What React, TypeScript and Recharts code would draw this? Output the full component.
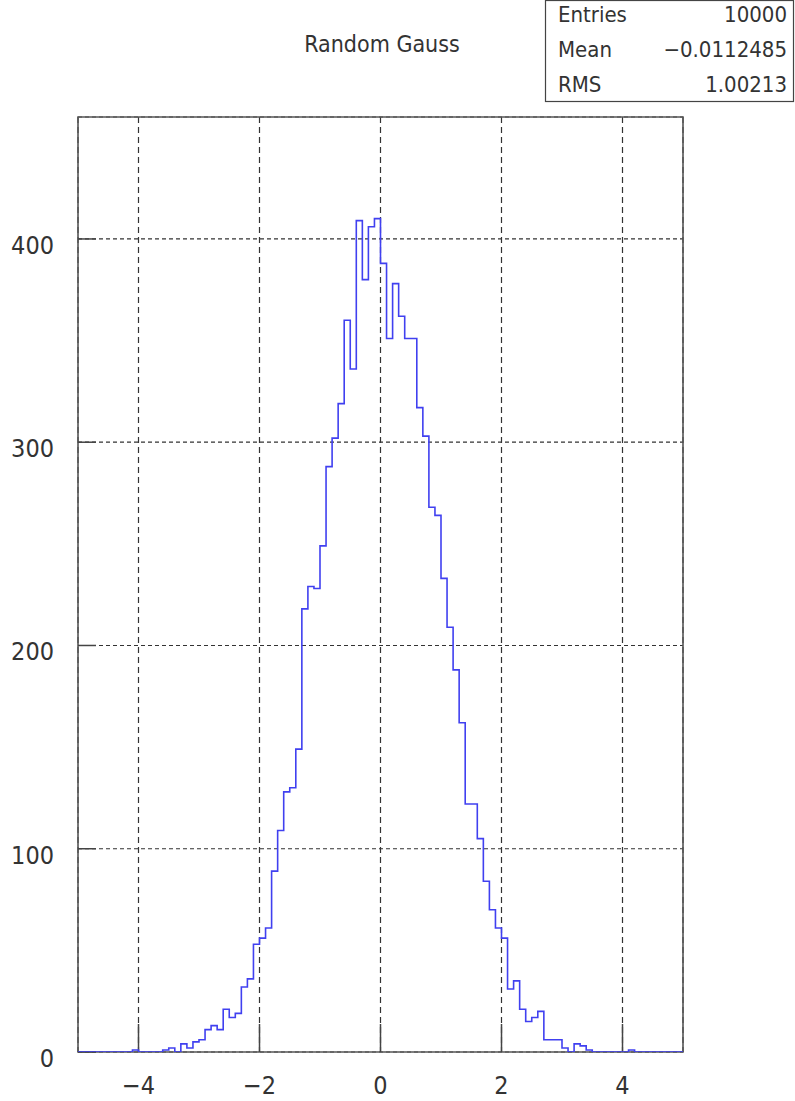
import React from 'react';
import { LineChart, Line, XAxis, YAxis, CartesianGrid, ReferenceLine, ReferenceArea } from 'recharts';

// Histogram "Random Gauss": 100 bins from -5 to 5
const binCounts: number[] = [
  0, 0, 0, 0, 0, 0, 0, 0, 0, 1,
  0, 0, 0, 0, 1, 2, 0, 4, 2, 5,
  6, 11, 13, 11, 21, 17, 19, 32, 36, 53,
  56, 61, 89, 109, 128, 130, 149, 218, 229, 228,
  249, 288, 302, 319, 360, 336, 409, 380, 406, 410,
  388, 351, 378, 362, 351, 351, 317, 303, 268, 264,
  233, 209, 188, 162, 122, 122, 105, 84, 70, 61,
  56, 31, 35, 21, 15, 17, 20, 6, 6, 6,
  2, 0, 4, 3, 1, 0, 0, 0, 0, 0,
  0, 1, 0, 0, 0, 0, 0, 0, 0, 0,
];
const xMin = -5;
const xMax = 5;
const binWidth = 0.1;
const yMax = 460;
const xTicks = [-4, -2, 0, 2, 4];
const yTicks = [0, 100, 200, 300, 400];
const title = 'Random Gauss';
const statsLabels = ['Entries', 'Mean', 'RMS'];
const statsValues = ['10000', '\u22120.0112485', '1.00213'];

const data = [
  ...binCounts.map((c, i) => ({ x: Math.round((xMin + i * binWidth) * 10) / 10, y: c })),
  { x: xMax, y: binCounts[binCounts.length - 1] },
];

const W = 795;
const H = 1101;
const margin = { top: 117, right: 112, bottom: 0, left: 0 };
const yAxisW = 78;
const xAxisH = 49;
const plotW = W - margin.left - margin.right - yAxisW;
const plotH = H - margin.top - margin.bottom - xAxisH;
// inward tick lengths (pixels) converted to data units
const xTickLen = (28 * yMax) / plotH;
const yTickLen = (18 * (xMax - xMin)) / plotW;

const FONT = '"DejaVu Sans Condensed", "Liberation Sans", sans-serif';
const TXT = '#333';

const fmt = (v: number) => (v < 0 ? '\u2212' + Math.abs(v) : String(v));

export default function App() {
  return (
    <div style={{ position: 'absolute', left: 0, top: 0, width: W, height: H, background: '#fff' }}>
      <LineChart width={W} height={H} data={data} margin={margin}>
        <CartesianGrid vertical={false} stroke="#333" strokeDasharray="4 3" strokeWidth={1.2} />
        <CartesianGrid horizontal={false} stroke="#333" strokeDasharray="6 4" strokeWidth={1.2} />
        <XAxis
          dataKey="x"
          type="number"
          domain={[xMin, xMax]}
          ticks={xTicks}
          height={xAxisH}
          axisLine={false}
          tickLine={false}
          tickSize={0}
          tickMargin={24}
          tickFormatter={fmt}
          tick={{ fontFamily: FONT, fontSize: 25, fill: TXT }}
          allowDataOverflow
        />
        <YAxis
          type="number"
          domain={[0, yMax]}
          ticks={yTicks}
          width={yAxisW}
          axisLine={false}
          tickLine={false}
          tickSize={0}
          tickMargin={24}
          tick={{ fontFamily: FONT, fontSize: 25, fill: TXT, dy: 6 }}
          allowDataOverflow
        />
        {xTicks.map((t) => (
          <ReferenceLine
            key={'xt' + t}
            segment={[{ x: t, y: 0 }, { x: t, y: xTickLen }]}
            stroke="#444"
            strokeWidth={1.5}
          />
        ))}
        {yTicks.map((t) => (
          <ReferenceLine
            key={'yt' + t}
            segment={[{ x: xMin, y: t }, { x: xMin + yTickLen, y: t }]}
            stroke="#444"
            strokeWidth={1.5}
          />
        ))}
        <Line
          type="stepAfter"
          dataKey="y"
          stroke="#4040f0"
          strokeWidth={1.6}
          dot={false}
          activeDot={false}
          isAnimationActive={false}
        />
        <ReferenceArea x1={xMin} x2={xMax} y1={0} y2={yMax} fill="none" stroke="#555" strokeWidth={1.6} />
      </LineChart>
      <svg
        width={W}
        height={H}
        style={{ position: 'absolute', left: 0, top: 0, pointerEvents: 'none' }}
      >
        <text x={382} y={52} textAnchor="middle" fontFamily={FONT} fontSize={23} fill={TXT}>
          {title}
        </text>
        <rect x={545.5} y={0.5} width={248} height={101} fill="#fff" stroke="#444" strokeWidth={1.2} />
        {statsLabels.map((l, i) => (
          <g key={l}>
            <text x={558} y={22 + i * 35} fontFamily={FONT} fontSize={22} fill={TXT}>
              {l}
            </text>
            <text x={787} y={22 + i * 35} textAnchor="end" fontFamily={FONT} fontSize={22} fill={TXT}>
              {statsValues[i]}
            </text>
          </g>
        ))}
      </svg>
    </div>
  );
}
